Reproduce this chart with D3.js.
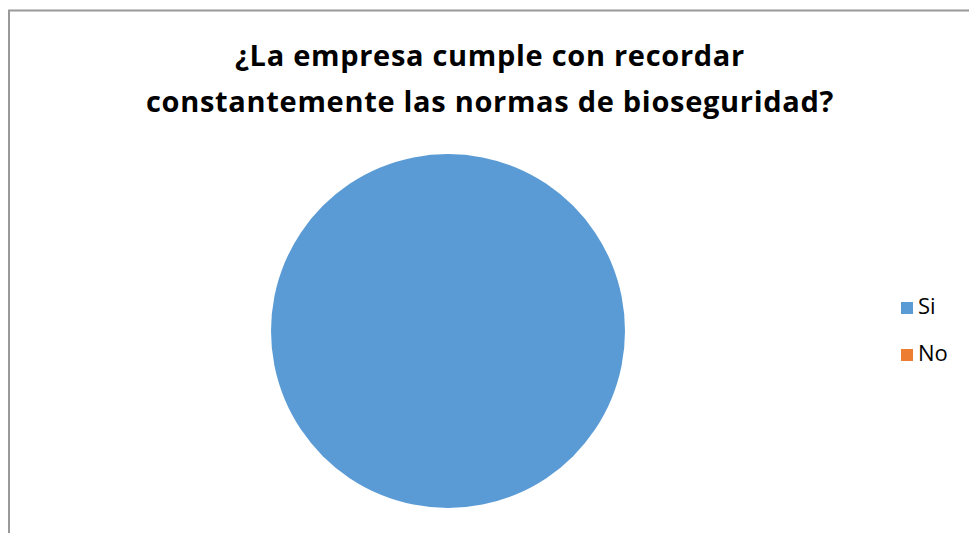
<!DOCTYPE html>
<html>
<head>
<meta charset="utf-8">
<script src="https://cdn.jsdelivr.net/npm/d3@7"></script>
<style>
  body { margin: 0; background: #fff; }
  svg { display: block; }
</style>
</head>
<body>
<svg id="chart" width="969" height="533"></svg>
<script>
// datos del grafico
let categories = ["Si", "No"];
let values = [100, 0];
let colors = ["#5B9BD5", "#ED7D31"];
let titleLines = ["¿La empresa cumple con recordar", "constantemente las normas de bioseguridad?"];

let svg = d3.select("#chart");

// borde del area del grafico (sigue fuera de la imagen a la derecha y abajo)
svg.append("rect")
    .attr("x", 9)
    .attr("y", 10.5)
    .attr("width", 980)
    .attr("height", 540)
    .attr("fill", "white")
    .attr("stroke", "#999")
    .attr("stroke-width", 2);

// titulo
svg.append("text")
    .attr("x", 490)
    .attr("y", 66)
    .attr("text-anchor", "middle")
    .attr("font-family", "'Open Sans', sans-serif")
    .attr("font-weight", "bold")
    .attr("font-size", 29)
    .attr("letter-spacing", 0.7)
    .attr("fill", "#000")
    .selectAll("tspan")
    .data(titleLines)
    .join("tspan")
    .attr("x", 490)
    .attr("dy", (d, i) => i === 0 ? 0 : 46)
    .text(d => d);

// torta
let centerX = 448;
let centerY = 331;
let radius = 177;

let pie = d3.pie().sort(null).value(d => d.value);
let arc = d3.arc().innerRadius(0).outerRadius(radius);
let pieData = pie(categories.map((c, i) => ({ name: c, value: values[i] })));

svg.append("g")
    .attr("transform", `translate(${centerX},${centerY})`)
    .selectAll("path")
    .data(pieData)
    .join("path")
    .attr("d", arc)
    .attr("fill", (d, i) => colors[i]);

// leyenda
let legend = svg.append("g")
    .selectAll("g")
    .data(categories)
    .join("g")
    .attr("transform", (d, i) => `translate(901, ${302 + i * 47})`);

legend.append("rect")
    .attr("width", 12)
    .attr("height", 12)
    .attr("fill", (d, i) => colors[i]);

legend.append("text")
    .attr("x", 17)
    .attr("y", 12)
    .attr("font-family", "'Open Sans', sans-serif")
    .attr("font-size", 22)
    .attr("fill", "#000")
    .text(d => d);
</script>
</body>
</html>
